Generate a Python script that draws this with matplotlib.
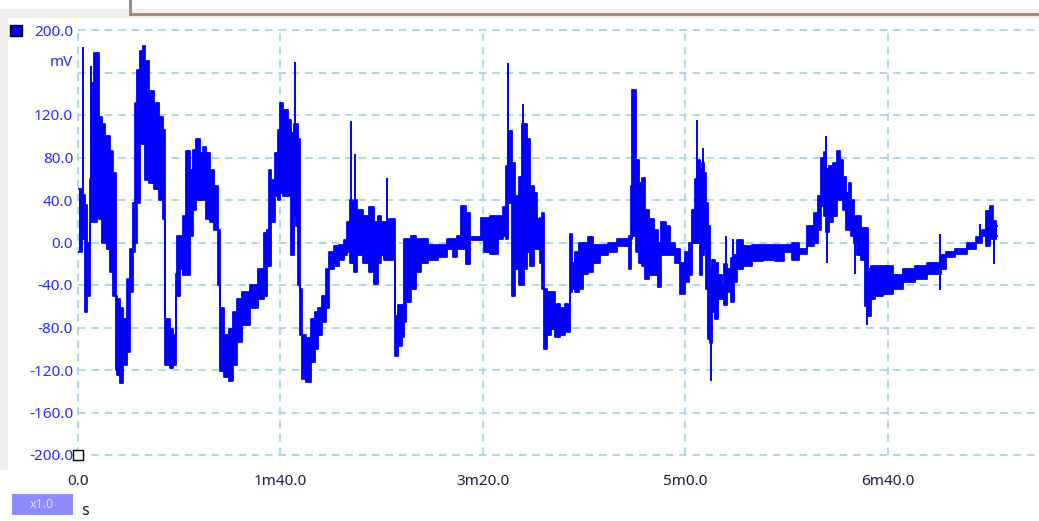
import matplotlib
matplotlib.use("Agg")
import matplotlib.pyplot as plt
from matplotlib.patches import Rectangle
from matplotlib.lines import Line2D

# time (s), lower / upper envelope of the trace (mV)
t = [0.5, 3.1, 3.9, 5.1, 6.4, 7.5, 8.7, 9.7, 10.8, 12.5, 14.1, 14.9, 16.6, 18.2, 19.0,
     19.9, 21.5, 23.2, 24.8, 26.4, 27.7, 28.6, 29.7, 31.4, 32.5, 33.8, 36.3, 39.2, 41.2,
     42.5, 43.2, 44.5, 46.1, 47.8, 48.6, 49.4, 51.0, 52.7, 54.3, 56.0, 57.6, 59.3, 60.9,
     62.6, 64.2, 66.2, 68.3, 69.5, 70.8, 73.2, 75.7, 77.4, 79.5, 82.8, 87.2, 91.0, 92.6,
     93.9, 94.9, 96.2, 97.9, 99.2, 100.3, 102.5, 104.5, 106.1, 107.2, 108.2, 109.1, 109.7,
     111.4, 114.0, 116.0, 117.6, 119.6, 121.7, 123.3, 125.0, 127.4, 130.4, 132.4, 133.7,
     134.8, 136.0, 137.0, 138.9, 142.2, 145.2, 147.1, 148.8, 150.4, 152.0, 154.8, 156.5,
     157.1, 159.1, 160.7, 161.4, 163.0, 165.7, 167.9, 170.9, 175.0, 180.4, 184.0, 186.5,
     188.1, 190.3, 192.6, 194.7, 198.0, 199.6, 201.8, 205.4, 209.0, 211.1, 211.9, 212.4,
     213.6, 214.9, 216.9, 218.5, 219.8, 220.8, 222.6, 224.3, 225.9, 227.6, 228.4, 229.6,
     230.6, 232.2, 234.5, 237.1, 239.4, 242.1, 243.5, 244.8, 246.5, 248.1, 250.6, 253.1,
     255.5, 259.6, 263.7, 268.6, 271.9, 272.6, 273.4, 274.0, 275.4, 276.0, 277.7, 279.3,
     281.0, 283.1, 285.4, 287.0, 289.2, 291.6, 293.6, 296.2, 298.5, 301.0, 302.8, 304.1,
     305.6, 306.9, 307.7, 308.5, 309.5, 310.8, 311.8, 312.4, 313.8, 315.4, 317.0, 318.7,
     319.8, 321.6, 323.3, 324.4, 326.9, 330.2, 335.1, 341.7, 346.6, 350.7, 354.3, 358.1,
     362.2, 364.3, 366.3, 367.9, 369.3, 369.9, 371.5, 374.2, 375.7, 377.0, 378.6, 380.3,
     381.1, 382.8, 383.9, 385.6, 388.2, 389.5, 390.5, 392.6, 395.1, 400.0, 404.9, 409.9,
     416.4, 422.2, 425.0, 427.4, 430.4, 436.1, 441.9, 445.5, 447.3, 449.3, 451.2, 452.6,
     453.9]
lo = [-9, 3, -65, -50, 19, 19, 19, 25, 22, 0, 0, -6, -28, -50, -120,
      -125, -132, -115, -103, -47, -9, 0, 37, 93, 93, 59, 56, 50, 40,
      22, -115, -115, -118, -115, -50, -50, -25, -31, -31, 6, 31, 40, 40,
      40, 22, 19, 12, -40, -121, -127, -130, -115, -94, -78, -62, -53, -50,
      -22, -22, 19, 44, 40, 47, 44, 44, -12, 25, 16, -40, -87,
      -128, -131, -112, -100, -87, -75, -62, -25, -22, -16, -12, -9,
      -19, -19, -28, -12, -19, -28, -39, -19, -12, -16, -16, -16,
      -107, -97, -89, -75, -56, -44, -28, -19, -16, -14, -6, -14,
      -6, -6, -20, 2, 2, 2, -9, -11, 3, 6, 3, 37,
      37, -50, -25, -40, -40, -25, -9, -22, -6, -6, -19, -44,
      -100, -87, -81, -89, -87, -84, -47, -44, -47, -44, -30, -28,
      -19, -12, -9, -3, -3, -25, 3, 6, 6, -9, -19, -22,
      -34, -31, -31, -42, -12, -12, -12, -19, -48, -37, -31, 0,
      0, 0, -31, -12, -6, -44, -91, -95, -65, -72, -53, -53,
      -59, -47, -56, -37, -25, -22, -17, -16, -17, -9, -16, -11,
      -3, 0, 12, 34, 25, 10, 19, 25, 40, 40, 31, 12,
      12, 6, 0, -12, -16, -60, -69, -53, -50, -48, -44, -37,
      -34, -30, -30, -25, -14, -11, -6, 0, 6, -3, 3, 3,
      6]
hi = [50, 45, 35, 0, 60, 150, 178, 178, 118, 112, 100, 100, 86, 65, -50,
      -53, -62, -72, -34, -6, 37, 131, 162, 180, 185, 171, 143, 131, 118,
      106, -72, -72, -81, -87, -30, 6, 6, 25, 86, 68, 87, 97, 84,
      90, 84, 68, 53, 12, -62, -87, -81, -65, -53, -47, -40, -25, 9,
      12, 68, 59, 84, 106, 131, 125, 115, 103, 112, 112, 97, -44,
      -87, -90, -72, -65, -62, -50, -25, -9, -3, -2, 2, 19,
      40, 37, 40, 31, 25, 33, 19, 25, 19, 19, 22, 22,
      -69, -59, -59, 3, 3, 6, 3, 3, -2, -2, 3, 3,
      6, 34, 28, 5, 5, 23, 23, 25, 25, 33, 72, 105,
      105, 75, 44, 62, 112, 112, 97, 53, 47, 22, 23, 28,
      -44, -47, -47, -58, -62, -58, 8, -19, -9, 0, 0, 5,
      -2, -2, 0, 3, 3, 6, 53, 144, 144, 78, 56, 61,
      31, 22, 12, 0, 19, 16, 0, -6, -19, -9, 0, 31,
      60, 78, 69, 75, 65, 37, 16, -25, -16, -19, -31, -40,
      -20, -25, -15, -12, 2, -3, -2, -2, -2, -2, 0, -6,
      16, 28, 44, 80, 85, 69, 72, 75, 86, 78, 62, 47,
      56, 40, 25, 25, 14, 14, -25, -22, -22, -22, -31, -25,
      -22, -19, -19, -12, -9, -6, 0, 5, 12, 30, 34, 20,
      16]

# isolated spikes: time (s), bottom, top (mV)
spike_t = [2.6, 6.4, 107.2, 134.8, 137.0, 152.8, 212.4, 214.9, 219.8, 305.6,
           308.5, 312.4, 319.8, 323.3, 369.3, 369.9, 383.9, 389.5, 425.9, 445.5, 452.6]
spike_lo = [40, 19, 25, -19, -28, -16, 37, -50, -40, 0,
            -12, -130, -59, -56, 25, -19, -30, -78, -45, 0, -20]
spike_hi = [184, 166, 170, 114, 83, 61, 169, 75, 130, 115,
            89, -25, 6, 3, 100, 69, 25, 14, 8, 17, 16]

x_ticks = [0, 100, 200, 300, 400]
x_labels = ["0.0", "1m40.0", "3m20.0", "5m0.0", "6m40.0"]
y_ticks = [-200, -160, -120, -80, -40, 0, 40, 80, 120, 160, 200]
y_labels = ["-200.0", "-160.0", "-120.0", "-80.0", "-40.0", "0.0",
            "40.0", "80.0", "120.0", "", "200.0"]

W, H = 1039, 521
plt.rcParams['font.family'] = ['Noto Sans', 'DejaVu Sans']

fig = plt.figure(figsize=(W / 100, H / 100), dpi=100)
fig.patch.set_facecolor('white')


def fx(x):
    return x / W


def fy(y):
    return 1 - y / H


# window chrome
fig.add_artist(Rectangle((0, fy(18)), 1, 9 / H, transform=fig.transFigure,
                         color='#f0efec', lw=0))
fig.add_artist(Rectangle((0, fy(470)), 8 / W, 452 / H, transform=fig.transFigure,
                         color='#f0efec', lw=0))
fig.add_artist(Line2D([fx(130), 1], [fy(14), fy(14)], transform=fig.transFigure,
                      color='#9c847a', lw=2))
fig.add_artist(Line2D([fx(130), fx(130)], [fy(14), 1], transform=fig.transFigure,
                      color='#9c847a', lw=2))

ax = fig.add_axes([fx(78), fy(455), fx(1039 - 78), 425 / H])
ax.set_facecolor('white')
ax.set_xlim(0, 474.6)
ax.set_ylim(-200, 200)

blue = '#0000ff'
ax.fill_between(t, lo, hi, step='mid', color=blue, lw=0, zorder=3)
ax.plot(t, lo, color=blue, lw=1.3, drawstyle='steps-mid', zorder=3)
ax.plot(t, hi, color=blue, lw=1.3, drawstyle='steps-mid', zorder=3)
ax.vlines(spike_t, spike_lo, spike_hi, color=blue, lw=1.4, zorder=3)

ax.set_xticks(x_ticks)
ax.set_xticklabels(x_labels, color='#1e1e3c', fontsize=11)
ax.set_yticks(y_ticks)
ax.set_yticklabels(y_labels, color='#2a2aff', fontsize=11)
ax.tick_params(axis='both', length=0)
ax.tick_params(axis='y', pad=3.5)
ax.tick_params(axis='x', pad=13.5)
for s in ax.spines.values():
    s.set_visible(False)

ax.grid(True, color='#a6d6e4', lw=1.3, linestyle=(0, (4.2, 3.2)), zorder=1)
for gl in ax.xaxis.get_gridlines() + ax.yaxis.get_gridlines():
    gl.set_clip_on(False)

# unit and channel markers
fig.text(fx(73), fy(63), "mV", color='#2a2aff', fontsize=11, ha='right', va='center')
fig.add_artist(Rectangle((fx(10), fy(36)), 12 / W, 11 / H, transform=fig.transFigure,
                         facecolor=blue, edgecolor='black', lw=1))
fig.add_artist(Rectangle((fx(73), fy(460)), 10 / W, 10 / H, transform=fig.transFigure,
                         facecolor='white', edgecolor='black', lw=1))

# zoom badge and time unit
fig.add_artist(Rectangle((fx(12), fy(515)), 61 / W, 21 / H, transform=fig.transFigure,
                         facecolor='#8c8cff', lw=0))
fig.text(fx(42), fy(505), "x1.0", color='#e4e4ff', fontsize=9, ha='center', va='center')
fig.text(fx(85), fy(511), "s", color='#1e1e3c', fontsize=11.5, ha='center', va='center')

fig.savefig("out.png", dpi=100)
